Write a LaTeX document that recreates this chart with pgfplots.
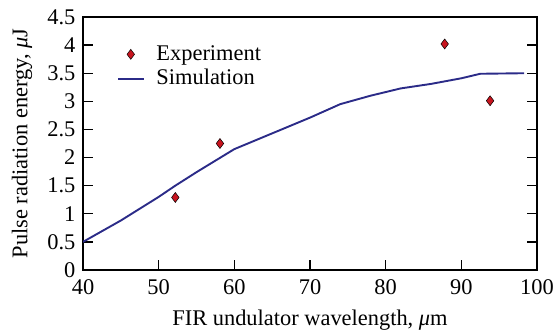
\documentclass[border=0pt]{standalone}
\usepackage{fontspec}
\setmainfont{Liberation Serif}
\usepackage{pgfplots}
\pgfplotsset{compat=1.18}
\definecolor{simblue}{HTML}{2B2B88}
\definecolor{expred}{HTML}{C8141E}
\begin{document}
\fontsize{22.5}{26}\selectfont
\begin{tikzpicture}
\begin{axis}[
  width=454bp, height=253bp, scale only axis,
  xmin=40, xmax=100, ymin=0, ymax=4.5,
  xtick={40,50,...,100}, ytick={0,0.5,...,4.5},
  xtick pos=bottom, ytick pos=both, tick align=inside,
  major tick length=10bp,
  axis line style={line width=1.3bp},
  every tick/.style={line width=1.3bp, black},
  /pgf/number format/assume math mode=true,
  ticklabel style={font=\fontsize{22.5}{26}\selectfont},
  xticklabel style={yshift=-1.5bp},
  label style={font=\fontsize{22.5}{26}\selectfont},
  xlabel={FIR undulator wavelength, \textit{μ}m},
  ylabel={Pulse radiation energy, \textit{μ}J},
  xlabel style={yshift=-1bp},
  legend style={at={(0.068,0.905)}, anchor=north west, draw=none, fill=none,
    font=\fontsize{22.5}{26}\selectfont, row sep=2bp, column sep=10bp},
  legend cell align=left,
]
\coordinate (sw) at (rel axis cs:0,0);
\coordinate (ne) at (rel axis cs:1,1);
\addplot[only marks, mark=diamond*, mark size=5bp, mark options={fill=expred, draw=black, line width=0.5bp},
  legend image code/.code={\draw[mark=diamond*, mark size=5bp, mark options={fill=expred, draw=black, line width=0.5bp}] plot coordinates {(0.45cm,0cm)};}]
  coordinates {(52.2,1.29) (58.1,2.25) (87.8,4.02) (93.8,3.01)};
\addlegendentry{Experiment}
\addplot[simblue, line width=1.9bp, legend image code/.code={\draw[simblue, line width=1.9bp] (0cm,0cm) -- (0.9cm,0cm);}]
  coordinates {(40,0.5) (45,0.88) (50,1.3) (52.2,1.5) (55,1.74) (60,2.15) (65,2.43) (70,2.71) (74,2.95) (78,3.1) (82,3.23) (86,3.31) (90,3.41) (92.5,3.49) (98.3,3.5)};
\addlegendentry{Simulation}
\end{axis}
\pgfresetboundingbox
\path ([shift={(-83bp,-64bp)}]sw) rectangle ([shift={(18bp,17bp)}]ne);
\end{tikzpicture}
\end{document}
